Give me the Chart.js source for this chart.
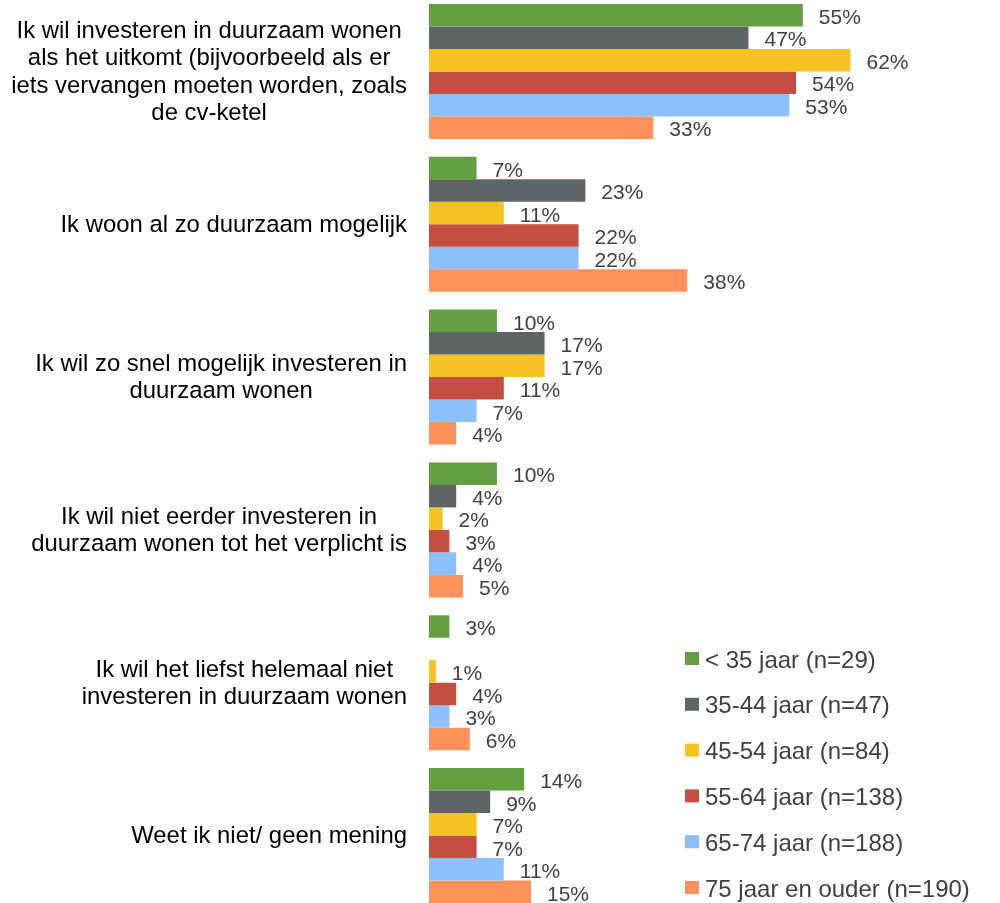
<!DOCTYPE html>
<html>
<head>
<meta charset="utf-8">
<script src="https://cdn.jsdelivr.net/npm/chart.js@4"></script>
<style>
    html, body { margin: 0; padding: 0; background: #fff; }
    #box { position: relative; width: 1000px; height: 903px; overflow: hidden; }
    #wrap { position: absolute; left: 0; top: -5px; width: 1000px; height: 917px; }
</style>
</head>
<body>
<div id="box"><div id="wrap"><canvas id="chart"></canvas></div></div>
<script>
// Categories (answers)
const categories = [
    ['Ik wil investeren in duurzaam wonen', 'als het uitkomt (bijvoorbeeld als er', 'iets vervangen moeten worden, zoals', 'de cv-ketel'],
    ['Ik woon al zo duurzaam mogelijk'],
    ['Ik wil zo snel mogelijk investeren in', 'duurzaam wonen'],
    ['Ik wil niet eerder investeren in', 'duurzaam wonen tot het verplicht is'],
    ['Ik wil het liefst helemaal niet', 'investeren in duurzaam wonen'],
    ['Weet ik niet/ geen mening']
];

// Age groups
const seriesNames = ['< 35 jaar (n=29)', '35-44 jaar (n=47)', '45-54 jaar (n=84)', '55-64 jaar (n=138)', '65-74 jaar (n=188)', '75 jaar en ouder (n=190)'];
const seriesColors = ['#64a041', '#5d6664', '#f4c322', '#c44e42', '#8cbffe', '#ff915a'];

// Values in % per age group
const under35 = [55, 7, 10, 10, 3, 14];
const age35_44 = [47, 23, 17, 4, null, 9];
const age45_54 = [62, 11, 17, 2, 1, 7];
const age55_64 = [54, 22, 11, 3, 4, 7];
const age65_74 = [53, 22, 7, 4, 3, 11];
const age75plus = [33, 38, 4, 5, 6, 15];

const seriesValues = [under35, age35_44, age45_54, age55_64, age65_74, age75plus];

// Value labels next to the bars
const valueLabels = {
    id: 'valueLabels',
    afterDatasetsDraw(chart) {
        const ctx = chart.ctx;
        ctx.save();
        ctx.font = '21px "Liberation Sans", Arial, sans-serif';
        ctx.fillStyle = '#404040';
        ctx.textAlign = 'left';
        ctx.textBaseline = 'middle';
        chart.data.datasets.forEach((ds, i) => {
            const meta = chart.getDatasetMeta(i);
            meta.data.forEach((bar, j) => {
                const v = ds.data[j];
                if (v === null || v === undefined) return;
                ctx.fillText(v + '%', bar.x + 16, bar.y + 3);
            });
        });
        ctx.restore();
    }
};

// Category labels: block right aligned, lines centred
const categoryLabels = {
    id: 'categoryLabels',
    afterDraw(chart) {
        const ctx = chart.ctx;
        const y = chart.scales.y;
        const lineH = 27.3;
        ctx.save();
        ctx.font = '23.9px "Liberation Sans", Arial, sans-serif';
        ctx.fillStyle = '#000000';
        ctx.textAlign = 'center';
        ctx.textBaseline = 'middle';
        categories.forEach((lines, i) => {
            const maxW = Math.max(...lines.map(l => ctx.measureText(l).width));
            const cx = 407 - maxW / 2;
            const cy = y.getPixelForValue(i) + 1;
            const top = cy - (lines.length - 1) * lineH / 2;
            lines.forEach((l, k) => ctx.fillText(l, cx, top + k * lineH));
        });
        ctx.restore();
    }
};

// Legend at bottom right
const sideLegend = {
    id: 'sideLegend',
    afterDraw(chart) {
        const ctx = chart.ctx;
        ctx.save();
        ctx.font = '24px "Liberation Sans", Arial, sans-serif';
        ctx.textAlign = 'left';
        ctx.textBaseline = 'middle';
        chart.data.datasets.forEach((ds, i) => {
            const cy = 665 + i * 45.8;
            ctx.fillStyle = ds.backgroundColor;
            ctx.fillRect(685, cy - 8, 14, 13);
            ctx.fillStyle = '#404040';
            ctx.fillText(ds.label, 705, cy + 1);
        });
        ctx.restore();
    }
};

new Chart(document.getElementById('chart'), {
    type: 'bar',
    data: {
        labels: categories,
        datasets: seriesNames.map((name, i) => ({
            label: name,
            data: seriesValues[i],
            backgroundColor: seriesColors[i],
            borderWidth: 0,
            categoryPercentage: 0.883,
            barPercentage: 1
        }))
    },
    options: {
        indexAxis: 'y',
        responsive: true,
        maintainAspectRatio: false,
        animation: false,
        layout: { padding: { left: 429, right: 0, top: 0, bottom: 0 } },
        plugins: {
            legend: { display: false },
            tooltip: { enabled: false }
        },
        scales: {
            x: { display: false, min: 0, max: 84 },
            y: { display: false, grid: { display: false } }
        }
    },
    plugins: [valueLabels, categoryLabels, sideLegend]
});
</script>
</body>
</html>
